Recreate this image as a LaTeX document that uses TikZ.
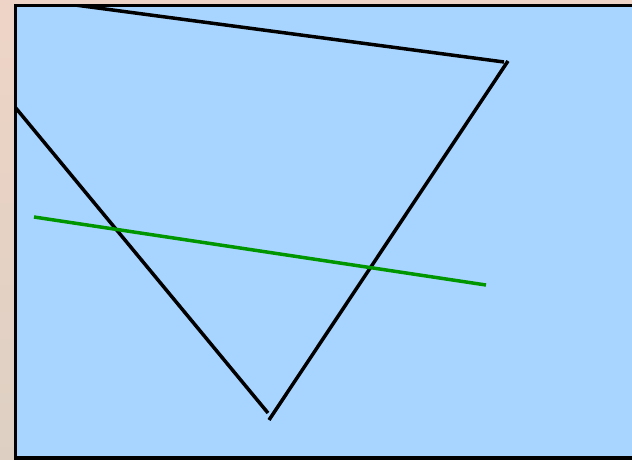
\documentclass[tikz,border=0pt]{standalone}
\usepackage{tikz}
\usetikzlibrary{calc}

\definecolor{pagetop}{RGB}{238,212,198}
\definecolor{pagebot}{RGB}{221,208,195}
\definecolor{skyfill}{RGB}{168,213,255}
\definecolor{cutgreen}{RGB}{0,150,0}

\begin{document}
\begin{tikzpicture}[x=0.5pt,y=-0.5pt]
    %----------------------------------------
    % PAGE (632 x 460 px, y downwards)
    %----------------------------------------
    \useasboundingbox (0,0) rectangle (632,460);
    \shade[top color=pagetop, bottom color=pagebot] (0,0) rectangle (632,460);

    % stroke width
    \def\w{1.75pt}

    %----------------------------------------
    % Frame (open to the right and bottom)
    %----------------------------------------
    \coordinate (frameNW) at (15.5,5.5);
    \coordinate (frameSE) at (640,458);
    \filldraw[fill=skyfill, line width=\w] (frameNW) rectangle (frameSE);

    %----------------------------------------
    % Triangle corners (not quite closed)
    %----------------------------------------
    \coordinate (topL)  at (60,3);
    \coordinate (topR1) at (504,62);
    \coordinate (topR2) at (508,61);
    \coordinate (botA)  at (268,413);
    \coordinate (botB)  at (269,420);
    \coordinate (leftE) at (10,101);

    \begin{scope}
      \clip (frameNW) rectangle (frameSE);
      \draw[line width=\w] (topL) -- (topR1);
      \draw[line width=\w] (topR2) -- (botB);
      \draw[line width=\w] (leftE) -- (botA);
    \end{scope}

    %----------------------------------------
    % Cutting line
    %----------------------------------------
    \coordinate (cutA) at (34,217);
    \coordinate (cutB) at (486,285);
    \draw[cutgreen, line width=\w] (cutA) -- (cutB);

\end{tikzpicture}
\end{document}
